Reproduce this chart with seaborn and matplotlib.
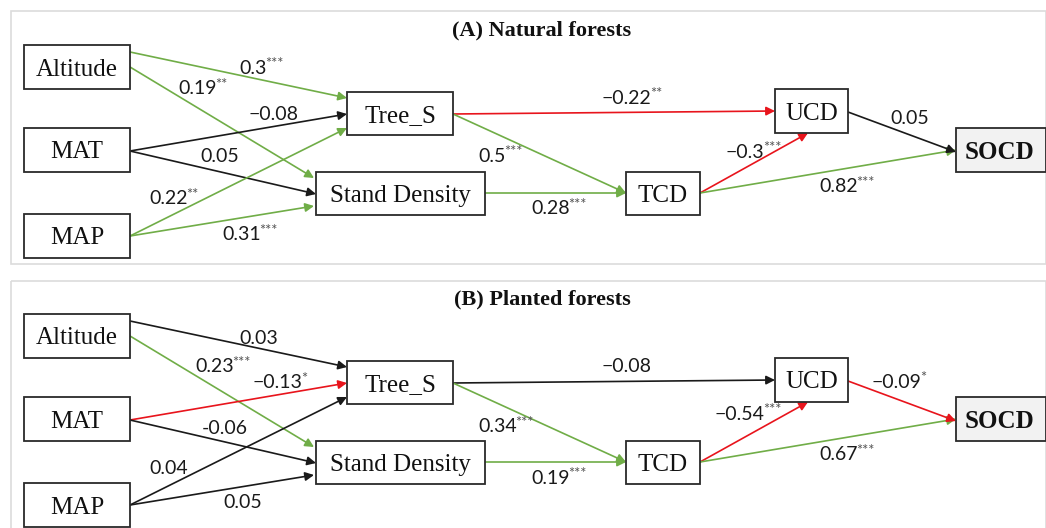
import matplotlib
matplotlib.use("Agg")
import matplotlib.pyplot as plt
from matplotlib.patches import Rectangle
import seaborn as sns
import pandas as pd

# ---------------- data ----------------
panel_titles = ["(A) Natural forests", "(B) Planted forests"]
nodes = ["Altitude", "MAT", "MAP", "Tree_S", "Stand Density", "TCD", "UCD", "SOCD"]
edge_src = ["Altitude", "Altitude", "MAT", "MAT", "MAP", "MAP",
            "Tree_S", "Tree_S", "Stand Density", "TCD", "TCD", "UCD"]
edge_dst = ["Tree_S", "Stand Density", "Tree_S", "Stand Density", "Tree_S", "Stand Density",
            "UCD", "TCD", "TCD", "UCD", "SOCD", "SOCD"]
coef_natural = ["0.3", "0.19", "\u22120.08", "0.05", "0.22", "0.31",
                "\u22120.22", "0.5", "0.28", "\u22120.3", "0.82", "0.05"]
sig_natural = ["***", "**", "", "", "**", "***",
               "**", "***", "***", "***", "***", ""]
coef_planted = ["0.03", "0.23", "\u22120.13", "-0.06", "0.04", "0.05",
                "\u22120.08", "0.34", "0.19", "\u22120.54", "0.67", "\u22120.09"]
sig_planted = ["", "***", "*", "", "", "",
               "", "***", "***", "***", "***", "*"]

# ---------------- layout (pixels, top panel; second panel shifted) ----------------
W, H = 1046, 528
panel_dy = [0, 269]
panel_frame = [(11, 11, 1046, 264), (11, 281, 1046, 540)]
title_pos = (542, 30)
box = {
    "Altitude": (24, 45, 130, 89),
    "MAT": (24, 128, 130, 172),
    "MAP": (24, 214, 130, 258),
    "Tree_S": (347, 92, 453, 135),
    "Stand Density": (316, 172, 485, 215),
    "TCD": (626, 172, 700, 215),
    "UCD": (775, 89, 848, 133),
    "SOCD": (956, 128, 1046, 172),
}
# start / end points of each edge (same order as edge lists)
edge_start = [(130, 52), (130, 67), (130, 151), (130, 151), (130, 236), (130, 236),
              (453, 114), (453, 114), (485, 193), (700, 193), (700, 193), (848, 112)]
edge_end = [(347, 98), (314, 178), (347, 114), (316, 194), (347, 128), (314, 206),
            (775, 111), (626, 193), (626, 193), (808, 133), (956, 150), (956, 152)]
label_pos = [
    [(239, 68), (178, 89), (249, 114), (200, 157), (149, 199), (222, 235),
     (602, 98), (478, 156), (531, 209), (726, 152), (819, 187), (890, 119)],
    [(239, 69), (195, 98), (253, 114), (202, 160), (149, 200), (223, 234),
     (602, 98), (478, 158), (531, 209), (715, 145), (819, 186), (872, 113)],
]

GREEN = "#70ad47"
RED = "#e8141c"
BLACK = "#1a1a1a"

def edge_color(coef, sig):
    if not sig:
        return BLACK
    val = float(coef.replace("\u2212", "-"))
    return GREEN if val > 0 else RED

sns.set_theme(style="white")
SERIF = "Liberation Serif"
NUMFONT = ["Lato", "DejaVu Sans"]

fig = plt.figure(figsize=(W / 100, H / 100), dpi=100)
ax = fig.add_axes([0, 0, 1, 1])
ax.set_xlim(0, W)
ax.set_ylim(H, 0)
ax.axis("off")
sns.despine(ax=ax, left=True, bottom=True)

coefs = [coef_natural, coef_planted]
sigs = [sig_natural, sig_planted]
df = pd.DataFrame({"src": edge_src, "dst": edge_dst})

texts = []
for p in range(2):
    dy = panel_dy[p]
    x0, y0, x1, y1 = panel_frame[p]
    ax.add_patch(Rectangle((x0, y0), x1 - x0, y1 - y0, fill=False,
                           edgecolor="#dcdcdc", lw=1.2, zorder=0))
    ax.text(title_pos[0], title_pos[1] + dy, panel_titles[p], ha="center", va="center",
            fontsize=16, fontweight="bold", family=SERIF, color="#111111")
    for n in nodes:
        bx0, by0, bx1, by1 = box[n]
        bold = n == "SOCD"
        ax.add_patch(Rectangle((bx0, by0 + dy), bx1 - bx0, by1 - by0,
                               facecolor="#f2f2f2" if bold else "white",
                               edgecolor="#2a2a2a", lw=1.3, zorder=3))
        cx = (bx0 + bx1) / 2 if not bold else 1000
        ax.text(cx, (by0 + by1) / 2 + dy + 2.5, n, ha="center", va="center",
                fontsize=18, family=SERIF, fontweight="bold" if bold else "normal",
                color="#111111", zorder=4)
    for i, row in df.iterrows():
        c = edge_color(coefs[p][i], sigs[p][i])
        sx, sy = edge_start[i]
        ex, ey = edge_end[i]
        ax.annotate("", xy=(ex, ey + dy), xytext=(sx, sy + dy),
                    arrowprops=dict(arrowstyle="-|>", color=c, lw=1.2,
                                    mutation_scale=13, shrinkA=0, shrinkB=0),
                    zorder=2)
        lx, ly = label_pos[p][i]
        t = ax.text(lx, ly + dy, coefs[p][i], ha="left", va="center", fontsize=14,
                    family=NUMFONT, color="#1a1a1a", zorder=5)
        texts.append((t, sigs[p][i], ly + dy))

fig.canvas.draw()
renderer = fig.canvas.get_renderer()
inv = ax.transData.inverted()
for t, s, ly in texts:
    if not s:
        continue
    bb = t.get_window_extent(renderer)
    xr, _ = inv.transform((bb.x1, bb.y1))
    ax.text(xr - 1.5, ly - 4, s, ha="left", va="center", fontsize=10.5,
            family=NUMFONT, color="#555555", zorder=5)

fig.savefig("out.png", dpi=100, facecolor="white")
